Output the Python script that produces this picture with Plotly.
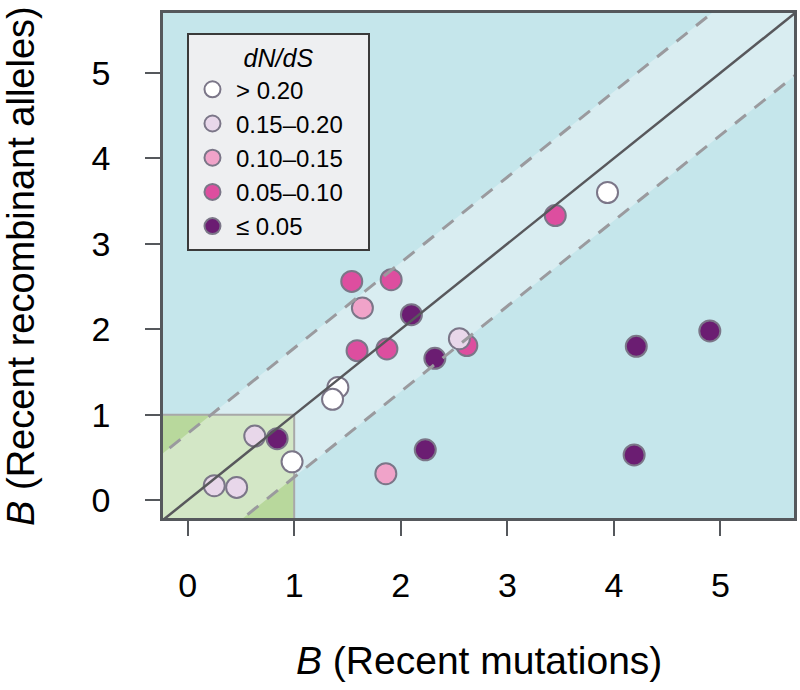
import plotly.graph_objects as go

# ---- data ----
categories = ["> 0.20", "0.15–0.20", "0.10–0.15", "0.05–0.10", "≤ 0.05"]
cat_colors = ["#ffffff", "#e8d7ea", "#f0a3c9", "#dd4e9f", "#6b1d72"]

x_gt020 = [3.94, 1.41, 1.36, 0.98]
y_gt020 = [3.60, 1.32, 1.18, 0.45]
x_015 = [2.55, 0.63, 0.25, 0.46]
y_015 = [1.89, 0.75, 0.17, 0.15]
x_010 = [1.64, 1.86]
y_010 = [2.25, 0.31]
x_005 = [3.45, 1.54, 1.91, 1.59, 1.87, 2.62]
y_005 = [3.33, 2.56, 2.58, 1.75, 1.77, 1.81]
x_le005 = [2.10, 2.32, 4.21, 4.90, 4.19, 2.23, 0.84]
y_le005 = [2.17, 1.66, 1.80, 1.98, 0.53, 0.59, 0.72]

tick_vals = [0, 1, 2, 3, 4, 5]
x_range = [-0.231, 5.69]
y_range = [-0.208, 5.70]
band_up = 0.78     # upper dashed line offset (y = x + band_up)
band_lo = 0.73     # lower dashed line offset (y = x - band_lo)
box_max = 1.0      # green square upper bound

series = [
    # (x, y, category index) in drawing order
    (x_005, y_005, 3),
    (x_010, y_010, 2),
    (x_gt020, y_gt020, 0),
    (x_015, y_015, 1),
    (x_le005, y_le005, 4),
]

NBSP = "\u00a0"
fig = go.Figure()
for xs, ys, ci in series:
    label = categories[ci]
    if ci == 1:
        label = label + NBSP * 3   # widen legend box to match reference
    fig.add_trace(go.Scatter(
        x=xs, y=ys, mode="markers", name=label,
        legendrank=ci + 1,
        marker=dict(size=21, color=cat_colors[ci],
                    line=dict(color="#7b7688", width=2)),
        hoverinfo="x+y+name",
    ))

# ---- background shapes ----
lo, hi = -2.0, 8.0
shapes = []
band_path = (f"M {lo} {lo + band_up} L {hi} {hi + band_up} "
             f"L {hi} {hi - band_lo} L {lo} {lo - band_lo} Z")
shapes.append(dict(type="path", path=band_path, xref="x", yref="y",
                   fillcolor="#d9edf1", line=dict(width=0), layer="below"))
shapes.append(dict(type="rect", xref="x", yref="y", x0=lo, y0=lo,
                   x1=box_max, y1=box_max, fillcolor="#b8d89c",
                   line=dict(width=0), layer="below"))
# band ∩ square
b = box_max
pts = [(lo, lo), (lo + band_lo, lo), (b, b - band_lo), (b, b),
       (b - band_up, b), (lo, lo + band_up)]
inter = "M " + " L ".join(f"{px} {py}" for px, py in pts) + " Z"
shapes.append(dict(type="path", path=inter, xref="x", yref="y",
                   fillcolor="#d3e7c6", line=dict(width=0), layer="below"))
shapes.append(dict(type="path", path=f"M {lo} {b} L {b} {b} L {b} {lo}",
                   xref="x", yref="y", line=dict(color="#a8a8a8", width=2),
                   layer="below"))
# lines above markers
shapes.append(dict(type="line", xref="x", yref="y", x0=lo, y0=lo, x1=hi, y1=hi,
                   line=dict(color="#58585c", width=2.5), layer="above"))
for off in (band_up, -band_lo):
    shapes.append(dict(type="line", xref="x", yref="y", x0=lo, y0=lo + off,
                       x1=hi, y1=hi + off,
                       line=dict(color="#9a9a9e", width=3, dash="14px,11px"),
                       layer="above"))

axis_common = dict(
    tickvals=tick_vals, ticks="outside", ticklen=15, tickwidth=2,
    tickcolor="#55585c", showline=True, linecolor="#55585c", linewidth=2.5,
    mirror=True, showgrid=False, zeroline=False,
    tickfont=dict(size=34, color="black", family="Liberation Sans, Arial"),
)

fig.update_layout(
    width=800, height=690,
    margin=dict(l=163, r=3, t=13, b=172),
    paper_bgcolor="white", plot_bgcolor="#c5e6eb",
    font=dict(family="Liberation Sans, Arial", color="black"),
    xaxis=dict(range=x_range, ticklabelstandoff=20, **axis_common),
    yaxis=dict(range=y_range, ticklabelstandoff=28, **axis_common),
    shapes=shapes,
    showlegend=True,
    legend=dict(
        x=0.038, y=0.961, xanchor="left", yanchor="top",
        bgcolor="#eeeff1", bordercolor="#3a3a3a", borderwidth=2,
        font=dict(size=24, color="black"),
        title=dict(text="<i>dN/dS</i>", side="top center",
                   font=dict(size=25, color="black")),
        traceorder="normal", itemsizing="trace", itemwidth=37,
    ),
    annotations=[
        dict(text="<i>B</i> (Recent mutations)", xref="paper", yref="paper",
             x=0.5, y=-0.283, xanchor="center", yanchor="middle",
             showarrow=False, font=dict(size=39, color="black")),
        dict(text="<i>B</i> (Recent recombinant alleles)", xref="paper",
             yref="paper", x=-0.226, y=0.5, xanchor="center",
             yanchor="middle", textangle=-90, showarrow=False,
             font=dict(size=38, color="black")),
    ],
)

fig.write_html("out.html", post_script="document.body.style.margin='0';",
               config={"displayModeBar": False})
